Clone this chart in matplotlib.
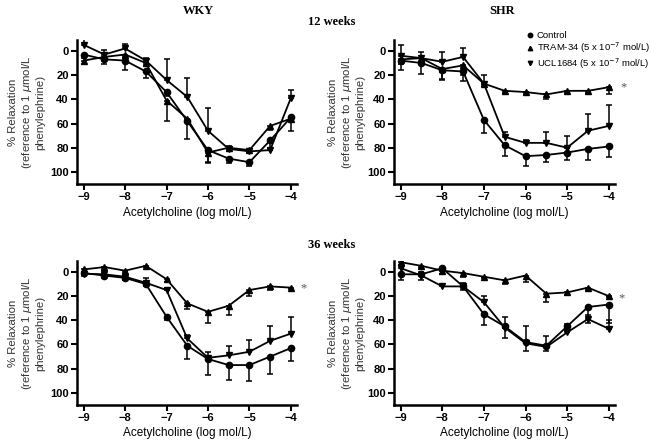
import matplotlib
matplotlib.use("Agg")
import matplotlib.pyplot as plt
from matplotlib.lines import Line2D
import numpy as np

plt.rcParams['font.family'] = ['Liberation Sans', 'DejaVu Sans']

x = [-9, -8.5, -8, -7.5, -7, -6.5, -6, -5.5, -5, -4.5, -4]
xticks = [-9, -8, -7, -6, -5, -4]
yticks = [0, 20, 40, 60, 80, 100]

# WKY 12 weeks
ctrl_wky12 = [3, 7, 8, 17, 34, 58, 82, 89, 92, 74, 55]
ctrl_wky12_err = [3, 4, 8, 5, 3, 15, 10, 4, 3, 8, 3]
tram_wky12 = [8, 5, 3, 10, 41, 56, 84, 80, 82, 62, 56]
tram_wky12_err = [3, 3, 2, 2, 17, 3, 9, 3, 2, 3, 10]
ucl_wky12 = [-5, 3, -2, 8, 24, 38, 66, 81, 83, 82, 39]
ucl_wky12_err = [5, 4, 4, 2, 17, 16, 19, 2, 2, 2, 7]

# SHR 12 weeks
ctrl_shr12 = [8, 10, 16, 17, 57, 78, 87, 86, 84, 81, 79]
ctrl_shr12_err = [8, 9, 8, 8, 11, 9, 8, 6, 6, 9, 9]
tram_shr12 = [7, 6, 15, 12, 27, 33, 34, 36, 33, 33, 30]
tram_shr12_err = [4, 3, 8, 8, 2, 2, 2, 4, 2, 2, 6]
ucl_shr12 = [4, 6, 9, 5, 27, 71, 76, 76, 80, 66, 62]
ucl_shr12_err = [9, 5, 8, 7, 7, 4, 2, 9, 10, 14, 17]

# WKY 36 weeks
ctrl_wky36 = [1, 3, 5, 10, 37, 61, 72, 77, 77, 70, 63]
ctrl_wky36_err = [2, 2, 2, 2, 3, 11, 13, 12, 13, 14, 11]
tram_wky36 = [-2, -4, -1, -5, 6, 26, 33, 28, 15, 12, 13]
tram_wky36_err = [2, 2, 2, 1, 2, 5, 9, 8, 5, 3, 1]
ucl_wky36 = [1.5, 2, 4, 9, 15, 55, 71, 69, 66, 57, 51]
ucl_wky36_err = [1, 1, 1, 4, 2, 3, 5, 8, 10, 12, 14]

# SHR 36 weeks
ctrl_shr36 = [2, 2, -3, 12, 35, 45, 58, 61, 45, 29, 27]
ctrl_shr36_err = [5, 5, 2, 3, 9, 10, 7, 4, 4, 13, 15]
tram_shr36 = [-8, -5, -1, 1, 4, 7, 3, 18, 17, 13, 20]
tram_shr36_err = [2, 2, 3, 3, 1, 3, 5, 7, 2, 2, 1]
ucl_shr36 = [-3, 3, 12, 12, 25, 46, 59, 62, 50, 39, 47]
ucl_shr36_err = [3, 3, 1, 3, 5, 9, 14, 9, 7, 3, 7]

labels = ['Control', 'TRAM-34 (5 x 10$^{-7}$ mol/L)', 'UCL1684 (5 x 10$^{-7}$ mol/L)']

fig = plt.figure(figsize=(6.51, 4.45), dpi=100)

def one_side(err, side):
    z = np.zeros(len(err))
    e = np.array(err, dtype=float)
    return [z, e] if side == 'down' else [e, z]

def panel(rect, ctrl, ctrl_e, tram, tram_e, ucl, ucl_e, lab_x, star=None):
    ax = fig.add_axes(rect)
    for y, e, m, side in [(ctrl, ctrl_e, 'o', 'down'),
                          (tram, tram_e, '^', 'down'),
                          (ucl, ucl_e, 'v', 'up')]:
        ax.errorbar(x, y, yerr=one_side(e, side), fmt='-', marker=m, color='black',
                    markersize=4.5, lw=1.3, elinewidth=1.1, capsize=2.5, capthick=1.1)
    ax.set_xlim(-9.16, -3.85)
    ax.set_ylim(110, -9)
    ax.set_xticks(xticks)
    ax.set_xticklabels([str(t).replace('-', '\u2212') for t in xticks])
    ax.set_yticks(yticks)
    for lab in ax.get_xticklabels() + ax.get_yticklabels():
        lab.set_fontweight('bold')
        lab.set_fontsize(8)
    ax.spines['top'].set_visible(False)
    ax.spines['right'].set_visible(False)
    ax.spines['left'].set_linewidth(1.8)
    ax.spines['bottom'].set_linewidth(1.8)
    ax.tick_params(width=1.5, length=4, pad=2)
    ax.set_xlabel('Acetylcholine (log mol/L)', fontsize=8.5, labelpad=3)
    ax.set_ylabel('% Relaxation\n(reference to 1 $\\mu$mol/L\nphenylephrine)',
                  fontsize=8.2, color='#333333', linespacing=1.2)
    ax.yaxis.set_label_coords(lab_x, 0.5)
    if star:
        ax.text(star[0], star[1], '*', fontsize=9, ha='center', va='center',
                color='#555555', family='Liberation Serif', clip_on=False)
    return ax

ax1 = panel([0.1183, 0.5865, 0.338, 0.3236], ctrl_wky12, ctrl_wky12_err,
            tram_wky12, tram_wky12_err, ucl_wky12, ucl_wky12_err, -0.145)
ax2 = panel([0.6052, 0.5865, 0.3395, 0.3236], ctrl_shr12, ctrl_shr12_err,
            tram_shr12, tram_shr12_err, ucl_shr12, ucl_shr12_err, -0.13,
            star=(-3.65, 30))
ax3 = panel([0.1183, 0.0899, 0.338, 0.3236], ctrl_wky36, ctrl_wky36_err,
            tram_wky36, tram_wky36_err, ucl_wky36, ucl_wky36_err, -0.145,
            star=(-3.7, 14))
ax4 = panel([0.6052, 0.0899, 0.3395, 0.3236], ctrl_shr36, ctrl_shr36_err,
            tram_shr36, tram_shr36_err, ucl_shr36, ucl_shr36_err, -0.13,
            star=(-3.7, 22))

handles = [Line2D([], [], marker=m, ls='none', color='black', markersize=3.2)
           for m in ['o', '^', 'v']]
ax2.legend(handles, labels, loc='upper left', bbox_to_anchor=(0.605, 1.06),
           frameon=False, fontsize=6.8, handlelength=0.5, handletextpad=0.45,
           labelspacing=0.05, borderaxespad=0, borderpad=0)

serif = 'Liberation Serif'
fig.text(198 / 651, 1 - 11 / 445, 'WKY', ha='center', va='center',
         fontweight='bold', family=serif, fontsize=9)
fig.text(502 / 651, 1 - 11 / 445, 'SHR', ha='center', va='center',
         fontweight='bold', family=serif, fontsize=9)
fig.text(332 / 651, 1 - 22 / 445, '12 weeks', ha='center', va='center',
         fontweight='bold', family=serif, fontsize=9)
fig.text(332 / 651, 1 - 245 / 445, '36 weeks', ha='center', va='center',
         fontweight='bold', family=serif, fontsize=9)

fig.savefig('out.png', dpi=100)
